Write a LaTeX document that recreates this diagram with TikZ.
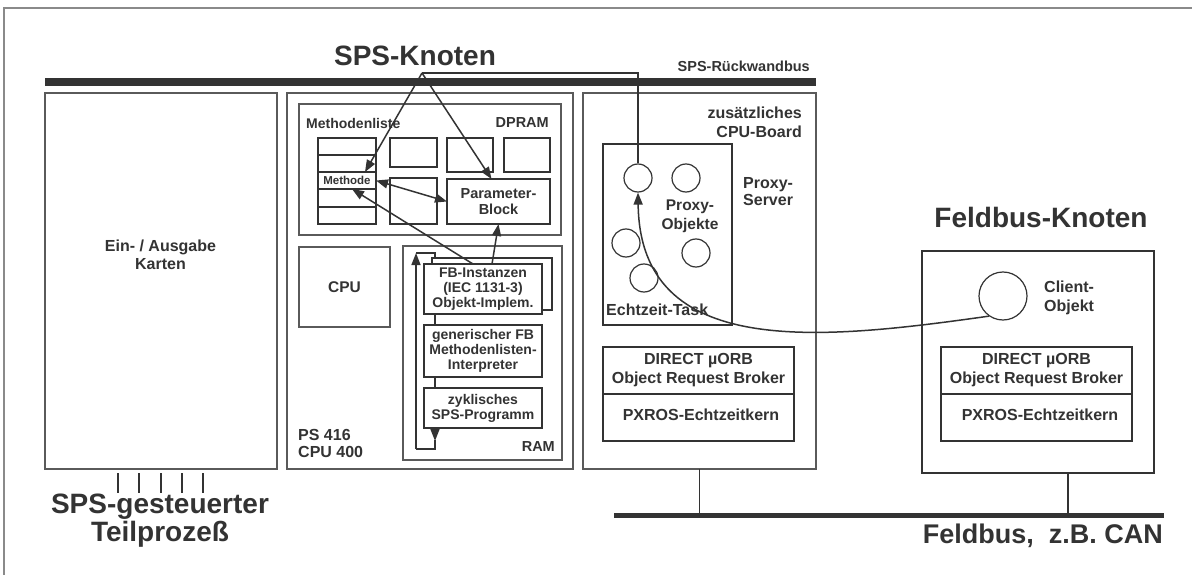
\documentclass[tikz,border=0pt]{standalone}
\usepackage{fontspec}
\setmainfont{Liberation Sans}
\usetikzlibrary{arrows.meta,calc}
\definecolor{ink}{HTML}{333333}
\definecolor{boardc}{HTML}{5A5A5A}
\definecolor{frm}{HTML}{8A8A8A}
\newcommand\fz[2]{\fontsize{#1}{#2}\selectfont\bfseries}
\begin{document}
\begin{tikzpicture}[x=1pt,y=-1pt,
  board/.style={draw=boardc, line width=1.2pt, anchor=north west, inner sep=0pt, outer sep=0pt},
  inbox/.style={draw=ink, line width=1.5pt, anchor=north west, inner sep=0pt, outer sep=0pt, fill=white, text=ink, align=center},
  obj/.style={circle, draw=ink, line width=1.2pt, minimum size=28pt, inner sep=0pt},
  lbl/.style={text=ink, inner sep=0pt},
  arr/.style={draw=ink, line width=1.5pt, -{Triangle[length=12pt,width=9pt]}},
  darr/.style={draw=ink, line width=1.5pt, {Triangle[length=12pt,width=9pt]}-{Triangle[length=12pt,width=9pt]}},
  con/.style={draw=ink, line width=1.3pt},
  bus/.style={draw=ink},
]
\useasboundingbox (0,0) rectangle (1192,575);
\clip (0,0) rectangle (1192,575);
\fill[white] (0,0) rectangle (1192,575);
\draw[frm, line width=1.5pt] (4,8) rectangle (1260,640);

% SPS backplane bus
\coordinate (b1) at (45,82);
\coordinate (b2) at (816,82);
\draw[bus, line width=8pt] (b1) -- (b2);
\node[lbl, font=\fz{28}{32}, anchor=base] (spsk) at (415,66) {SPS-Knoten};
\node[lbl, font=\fz{14.5}{16}, anchor=east] (rwb) at (810,66) {SPS-Rückwandbus};

% three boards
\node[board, minimum width=232pt, minimum height=376pt] (io) at (45,93) {};
\node[board, minimum width=286pt, minimum height=376pt] (mid) at (287,93) {};
\node[board, minimum width=233pt, minimum height=376pt] (add) at (583,93) {};

\node[lbl, font=\fz{16}{18}, align=center] (iotxt) at (160.5,255) {Ein- / Ausgabe\\Karten};
\foreach \x in {118,139,161,182,203} \draw[con, line width=1.2pt] (\x,473) -- (\x,493);
\node[lbl, font=\fz{28}{28}, align=center] (proc) at (160,521) {SPS-gesteuerter\\Teilprozeß};

% DPRAM
\node[inbox, draw=boardc, line width=1.3pt, minimum width=262pt, minimum height=131pt] (dpram) at (299,104) {};
\node[lbl, font=\fz{14}{16}, anchor=west] (ml) at (306,123) {Methodenliste};
\node[lbl, font=\fz{14.5}{16}, anchor=east] (dp) at (549,123) {DPRAM};
\node[inbox, minimum width=58pt, minimum height=17pt] (m1) at (318,138) {};
\node[inbox, minimum width=58pt, minimum height=17pt] (m2) at (318,155) {};
\node[inbox, minimum width=58pt, minimum height=17pt, font=\fz{11.5}{13}] (m3) at (318,172) {Methode};
\node[inbox, minimum width=58pt, minimum height=18pt] (m4) at (318,189) {};
\node[inbox, minimum width=58pt, minimum height=17pt] (m5) at (318,207) {};
\node[inbox, minimum width=47pt, minimum height=29pt] (ba) at (390,138) {};
\node[inbox, minimum width=46pt, minimum height=34pt] (bb) at (447,138) {};
\node[inbox, minimum width=46pt, minimum height=34pt] (bc) at (504,138) {};
\node[inbox, minimum width=47pt, minimum height=46pt] (bd) at (390,178) {};
\node[inbox, minimum width=103pt, minimum height=45pt, font=\fz{14.5}{16}] (pb) at (447,179) {Parameter-\\Block};

% CPU and RAM
\node[inbox, draw=boardc, line width=1.3pt, minimum width=91pt, minimum height=80pt, font=\fz{15.5}{17}] (cpu) at (299,247) {CPU};
\node[inbox, draw=boardc, line width=1.3pt, minimum width=159pt, minimum height=214pt] (ram) at (403,246) {};
\node[lbl, font=\fz{14.5}{16}, anchor=east] (ramt) at (555,447) {RAM};
\node[lbl, font=\fz{16}{17}, anchor=west, align=left] (ps) at (298,443.5) {PS 416\\CPU 400};

\node[inbox, minimum width=120pt, minimum height=52pt] (fbb) at (432,258) {};
\node[inbox, minimum width=118pt, minimum height=50pt, font=\fz{14}{15}] (fb) at (424,264) {FB-Instanzen\\(IEC 1131-3)\\Objekt-Implem.};
\node[inbox, minimum width=118pt, minimum height=52pt, font=\fz{14}{15}] (gen) at (424,325) {generischer FB\\Methodenlisten-\\Interpreter};
\node[inbox, minimum width=118pt, minimum height=40pt, font=\fz{14}{15}] (zyk) at (424,388) {zyklisches\\SPS-Programm};

% cycle
\draw[con, line width=1.5pt] ([xshift=-48pt]fb.south) -- ([xshift=-48pt]gen.north);
\draw[con, line width=1.5pt] ([xshift=-48pt]gen.south) -- ([xshift=-48pt]zyk.north);
\draw[arr] ([xshift=-48pt]zyk.south) -- ++(0,13);
\coordinate (lb) at (416,449);
\draw[con, line width=1.5pt] ([xshift=-48pt]zyk.south) ++(0,12) -- ([xshift=-48pt]zyk.south |- lb) -- (lb);
\draw[arr] (lb) -- (416,253);
\draw[con, line width=1.5pt] (416,253) -- (435,253) -- ([xshift=-57pt]fbb.north);

% additional CPU board
\node[lbl, font=\fz{16}{19}, anchor=east, align=right] (zus) at (802,122.5) {zusätzliches\\CPU-Board};
\node[inbox, minimum width=129pt, minimum height=181pt] (echt) at (603,144) {};
\node[lbl, font=\fz{16}{17}, anchor=west] (ett) at (606,310) {Echtzeit-Task};
\node[lbl, font=\fz{16}{17}, anchor=west, align=left] (pserv) at (743,191.5) {Proxy-\\Server};
\node[lbl, font=\fz{15.5}{19}, align=center] (pobj) at (690,216.5) {Proxy-\\Objekte};
\node[obj] (c1) at (638,178) {};
\node[obj] (c2) at (686,178) {};
\node[obj] (c3) at (626,243) {};
\node[obj] (c4) at (696,253) {};
\node[obj] (c5) at (644,278) {};

\node[inbox, minimum width=191pt, minimum height=47pt, font=\fz{16}{19}] (orb1) at (603,347) {DIRECT µORB\\Object Request Broker};
\node[inbox, minimum width=191pt, minimum height=47pt, font=\fz{16}{19}] (px1) at (603,394) {};
\node[lbl, font=\fz{16}{19}] (px1t) at (701,415) {PXROS-Echtzeitkern};

% Feldbus node
\node[lbl, font=\fz{28}{32}] (fk) at (1041,217) {Feldbus-Knoten};
\node[inbox, line width=2pt, minimum width=232pt, minimum height=222pt] (fnode) at (922,251) {};
\node[obj, minimum size=48pt] (client) at (1003,296) {};
\node[lbl, font=\fz{16}{19}, anchor=west, align=left] (clt) at (1044,297.5) {Client-\\Objekt};
\node[inbox, minimum width=191pt, minimum height=47pt, font=\fz{16}{19}] (orb2) at (941,347) {DIRECT µORB\\Object Request Broker};
\node[inbox, minimum width=191pt, minimum height=47pt] (px2) at (941,394) {};
\node[lbl, font=\fz{16}{19}] (px2t) at (1040,415) {PXROS-Echtzeitkern};

% field bus
\coordinate (f1) at (614,515);
\coordinate (f2) at (1164,515);
\draw[bus, line width=5pt] (f1) -- (f2);
\draw[con] (add.south) -- (add.south |- f1);
\draw[con] ([xshift=30pt]fnode.south) -- ([xshift=30pt]fnode.south |- f1);
\node[lbl, font=\fz{27}{30}, anchor=base east] (fbt) at (1163,543) {Feldbus,\ \ z.B. CAN};

% connectors
\coordinate (apex) at (422,73);
\draw[con] (apex) -- (apex -| c1.north) -- (c1.north);
\draw[arr] (apex) -- ([xshift=-11pt]m3.north east);
\draw[arr] (apex) -- ([xshift=-7pt]pb.north);
\draw[darr] (m3.east) -- (pb.west);
\draw[arr] ([xshift=-10pt]fb.north) -- ([xshift=5pt]m3.south);
\draw[arr] ([xshift=9pt]fb.north) -- (pb.south);
\draw[arr] (client.235) .. controls (820,340) and (640,360) .. (c1.south);
\end{tikzpicture}
\end{document}
